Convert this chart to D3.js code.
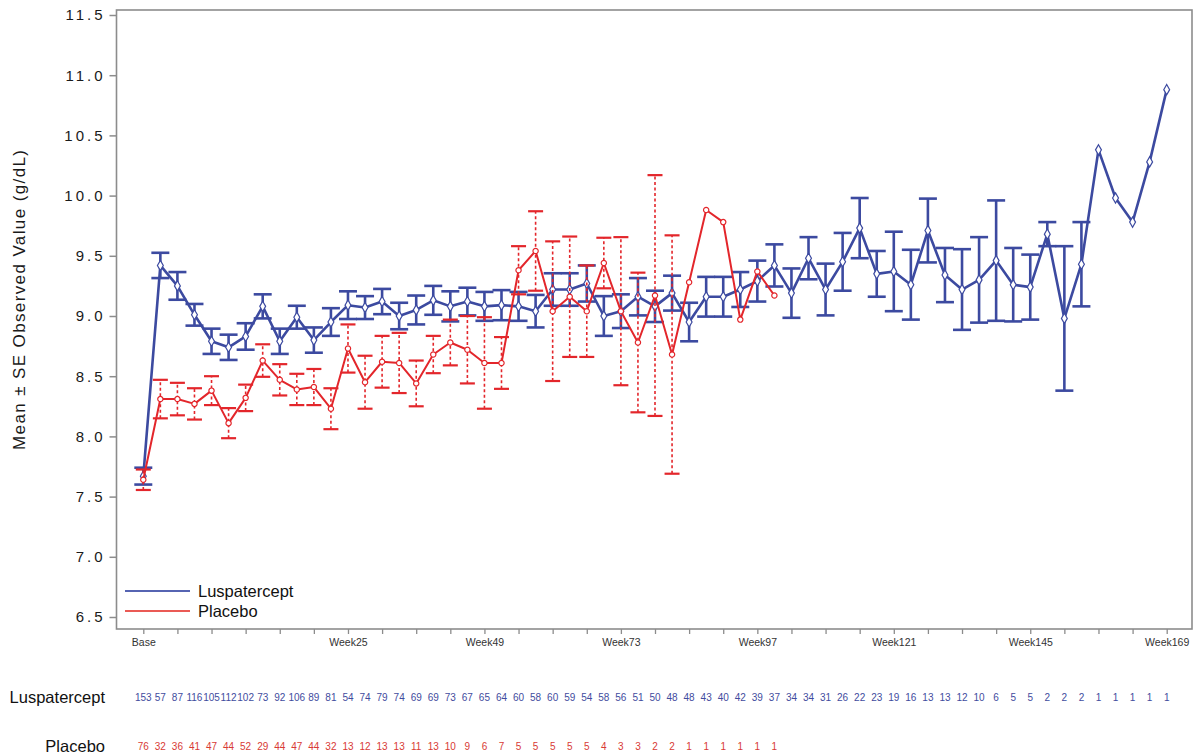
<!DOCTYPE html>
<html><head><meta charset="utf-8">
<script src="https://cdn.jsdelivr.net/npm/d3@7/dist/d3.min.js"></script>
<style>body{margin:0;background:#fff}svg{display:block;font-family:"Liberation Sans",Arial,sans-serif}</style>
</head><body><svg id="c" width="1196" height="756"></svg>
<script>
const visits = ["Base","Week2","Week4","Week6","Week8","Week10","Week12","Week14","Week16","Week18","Week20","Week22",
"Week25","Week28","Week31","Week34","Week37","Week40","Week43","Week46","Week49","Week52","Week55","Week58","Week61","Week64","Week67","Week70",
"Week73","Week76","Week79","Week82","Week85","Week88","Week91","Week94","Week97","Week100","Week103","Week106","Week109","Week112","Week115","Week118",
"Week121","Week124","Week127","Week130","Week133","Week136","Week139","Week142","Week145","Week148","Week151","Week154","Week157","Week160","Week163","Week166","Week169"];
const xTickLabels = ["Base","Week25","Week49","Week73","Week97","Week121","Week145","Week169"];
const yTicks = [6.5,7.0,7.5,8.0,8.5,9.0,9.5,10.0,10.5,11.0,11.5];

const luspMean = [7.67,9.42,9.25,9.01,8.79,8.74,8.83,9.08,8.79,8.99,8.80,8.95,9.09,9.07,9.12,9.00,9.05,9.13,9.08,9.12,
9.08,9.09,9.08,9.04,9.22,9.22,9.27,9.00,9.04,9.16,9.08,9.19,8.95,9.16,9.16,9.22,9.29,9.42,9.19,9.48,
9.22,9.45,9.73,9.35,9.37,9.26,9.71,9.34,9.22,9.30,9.46,9.26,9.24,9.68,8.98,9.43,10.38,9.98,9.78,10.28,10.88];
const luspSE = [0.07,0.105,0.115,0.09,0.105,0.105,0.11,0.10,0.105,0.095,0.105,0.115,0.115,0.095,0.105,0.11,0.12,0.12,0.125,0.115,
0.12,0.125,0.12,0.135,0.135,0.135,0.15,0.165,0.14,0.155,0.13,0.145,0.16,0.165,0.165,0.145,0.17,0.175,0.205,0.175,
0.215,0.24,0.25,0.19,0.33,0.29,0.265,0.225,0.335,0.355,0.50,0.305,0.27,0.10,0.60,0.35,null,null,null,null,null];
const luspN = [153,57,87,116,105,112,102,73,92,106,89,81,54,74,79,74,69,69,73,67,65,64,60,58,60,59,54,58,56,51,50,48,48,43,40,42,39,37,34,34,31,26,22,23,19,16,13,13,12,10,6,5,5,2,2,2,1,1,1,1,1];

const placMean = [7.64,8.31,8.31,8.27,8.38,8.11,8.32,8.63,8.47,8.39,8.41,8.23,8.73,8.45,8.62,8.61,8.44,8.68,8.78,8.72,
8.61,8.61,9.38,9.54,9.04,9.16,9.04,9.44,9.04,8.78,9.17,8.68,9.28,9.88,9.78,8.97,9.37,9.17];
const placSE = [0.085,0.16,0.135,0.13,0.12,0.125,0.11,0.135,0.13,0.13,0.15,0.17,0.2,0.22,0.215,0.25,0.19,0.155,0.19,0.28,
0.38,0.215,0.2,0.33,0.58,0.5,0.38,0.21,0.615,0.58,1.0,0.99,null,null,null,null,null,null];
const placN = [76,32,36,41,47,44,52,29,44,47,44,32,13,12,13,13,11,13,10,9,6,7,5,5,5,5,5,4,3,3,2,2,1,1,1,1,1,1];

const BLUE = "#3c4aa0", RED = "#e3262b";
const svg = d3.select("#c");
const x = d3.scalePoint().domain(visits).range([143.3, 1166.7]);
const y = d3.scaleLinear().domain([6.5, 11.5]).range([617, 15]);
const frame = {l:116.5, t:10, r:1192, b:629};

svg.append("rect").attr("x",frame.l).attr("y",frame.t).attr("width",frame.r-frame.l).attr("height",frame.b-frame.t)
  .attr("fill","none").attr("stroke","#8c8c8c").attr("stroke-width",1.6);

const ya = svg.append("g").attr("transform",`translate(${frame.l},0)`)
  .call(d3.axisLeft(y).tickValues(yTicks).tickFormat(d3.format(".1f")).tickSize(7).tickPadding(4));
ya.select(".domain").remove();
ya.selectAll(".tick line").attr("stroke","#8c8c8c").attr("stroke-width",1.5);
ya.selectAll(".tick text").attr("font-size",15).attr("letter-spacing","3px").attr("fill","#1a1a1a")
  .attr("font-family","'Liberation Sans',Arial,sans-serif");

svg.append("text").attr("transform","translate(25,300) rotate(-90)").attr("text-anchor","middle")
  .attr("font-size",17).attr("fill","#1a1a1a").attr("textLength",300).attr("lengthAdjust","spacing")
  .text("Mean \u00B1 SE Observed Value (g/dL)");

const xa = svg.append("g").attr("transform",`translate(0,${frame.b})`)
  .call(d3.axisBottom(x).tickValues(visits.filter((d,i)=>i%2===0)).tickSize(5).tickPadding(5)
    .tickFormat(d => xTickLabels.includes(d) ? d : ""));
xa.select(".domain").remove();
xa.selectAll(".tick line").attr("stroke","#8c8c8c").attr("stroke-width",1.3);
xa.selectAll(".tick text").attr("font-size",10.5).attr("fill","#333").attr("font-family","'Liberation Sans',Arial,sans-serif");

function drawSeries(mean, se, color, opts){
  const g = svg.append("g");
  const pts = mean.map((m,i)=>({v:visits[i], m, s:se[i]}));
  const eb = pts.filter(p=>p.s!=null);
  g.selectAll("line.bar").data(eb).join("line").attr("class","bar")
    .attr("x1",p=>x(p.v)).attr("x2",p=>x(p.v)).attr("y1",p=>y(p.m-p.s)).attr("y2",p=>y(p.m+p.s))
    .attr("stroke",color).attr("stroke-width",opts.barW).attr("stroke-dasharray",opts.dash||null);
  ["lo","hi"].forEach(k=>{
    g.selectAll("line.cap"+k).data(eb).join("line").attr("class","cap"+k)
      .attr("x1",p=>x(p.v)-opts.cap).attr("x2",p=>x(p.v)+opts.cap)
      .attr("y1",p=>y(k==="lo"?p.m-p.s:p.m+p.s)).attr("y2",p=>y(k==="lo"?p.m-p.s:p.m+p.s))
      .attr("stroke",color).attr("stroke-width",opts.capW);
  });
  g.append("path").datum(pts).attr("fill","none").attr("stroke",color).attr("stroke-width",opts.lineW)
    .attr("stroke-linejoin","round")
    .attr("d",d3.line().x(p=>x(p.v)).y(p=>y(p.m)));
  g.selectAll("path.mk").data(pts).join("path").attr("class","mk")
    .attr("transform",p=>`translate(${x(p.v)},${y(p.m)})`)
    .attr("d",d3.symbol().type(opts.symbol).size(opts.size))
    .attr("fill","#fff").attr("stroke",color).attr("stroke-width",1.2);
}
drawSeries(luspMean, luspSE, BLUE, {barW:2.6, capW:2.6, cap:9, lineW:2.6, symbol:d3.symbolDiamond, size:30});
drawSeries(placMean, placSE, RED, {barW:1.6, capW:2.2, cap:7.5, lineW:2, dash:"3,2.5", symbol:d3.symbolCircle, size:22});

const leg = [{name:"Luspatercept", c:"#5664b2", yy:591},{name:"Placebo", c:"#ea5a55", yy:611}];
leg.forEach(l=>{
  svg.append("line").attr("x1",125).attr("x2",190).attr("y1",l.yy).attr("y2",l.yy).attr("stroke",l.c).attr("stroke-width",2);
  svg.append("text").attr("x",198).attr("y",l.yy+6).attr("font-size",16.5).attr("fill","#111").text(l.name);
});

const rows = [{name:"Luspatercept", n:luspN, c:"#3f4c9e", yy:697},{name:"Placebo", n:placN, c:"#d83a35", yy:746}];
rows.forEach(r=>{
  svg.append("text").attr("x",105).attr("y",r.yy+6).attr("text-anchor","end").attr("font-size",16.5).attr("fill","#111").text(r.name);
  svg.append("g").selectAll("text").data(r.n).join("text")
    .attr("x",(d,i)=>x(visits[i])).attr("y",r.yy+3.5).attr("text-anchor","middle")
    .attr("font-size",10).attr("fill",r.c).text(d=>d);
});
</script></body></html>
